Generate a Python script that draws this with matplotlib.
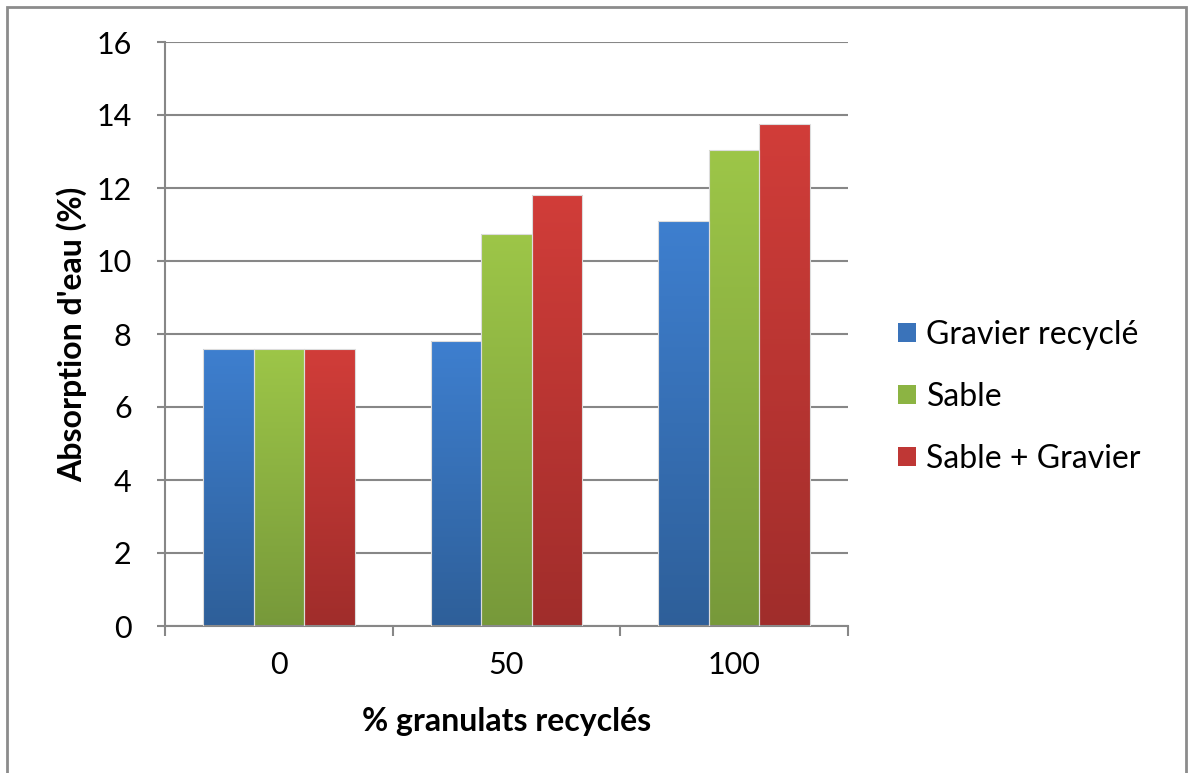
import matplotlib.pyplot as plt
import numpy as np
from matplotlib.colors import LinearSegmentedColormap
from matplotlib.patches import Rectangle

# data
categories = ["0", "50", "100"]
series_names = ["Gravier recyclé", "Sable", "Sable + Gravier"]
gravier_recycle = [7.6, 7.8, 11.1]
sable = [7.6, 10.75, 13.05]
sable_gravier = [7.6, 11.8, 13.75]
y_ticks = [0, 2, 4, 6, 8, 10, 12, 14, 16]

# gradient colours (top -> bottom)
top_colors = ["#3e7fcf", "#9dc648", "#d13d39"]
bottom_colors = ["#2e5f99", "#77993a", "#a02d2b"]
legend_colors = ["#3a73ba", "#8cb443", "#bf3735"]

plt.rcParams['font.family'] = ['Lato', 'DejaVu Sans']

W, H = 1188, 773
fig = plt.figure(figsize=(W / 100, H / 100), dpi=100)
ax = fig.add_axes([165 / W, 1 - 626 / H, (848 - 165) / W, (626 - 42) / H])

grid_color = "#878787"
x = np.arange(len(categories))
bar_w = 1 / 4.5
all_series = [gravier_recycle, sable, sable_gravier]

for i, values in enumerate(all_series):
    bars = ax.bar(x + (i - 1) * bar_w, values, bar_w, facecolor="none",
                  edgecolor="#dcdcdc", linewidth=0.8, zorder=3)
    cmap = LinearSegmentedColormap.from_list("g%d" % i,
                                             [bottom_colors[i], top_colors[i]])
    grad = np.linspace(0, 1, 256).reshape(-1, 1)
    for b in bars:
        x0, y0 = b.get_x(), b.get_y()
        img = ax.imshow(grad, cmap=cmap, origin="lower", aspect="auto",
                        extent=[x0, x0 + b.get_width(), y0, y0 + b.get_height()],
                        zorder=2)
        img.set_clip_path(b)

ax.set_xlim(-0.5, 2.5)
ax.set_ylim(0, 16)
ax.set_yticks(y_ticks)
ax.set_yticklabels([str(t) for t in y_ticks])
ax.set_xticks(x)
ax.set_xticklabels(categories)
ax.set_xticks([-0.5, 0.5, 1.5, 2.5], minor=True)

ax.grid(axis="y", color=grid_color, linewidth=1.5, zorder=0)
ax.set_axisbelow(True)
for s in ["top", "right"]:
    ax.spines[s].set_visible(False)
for s in ["left", "bottom"]:
    ax.spines[s].set_color(grid_color)
    ax.spines[s].set_linewidth(1.5)

ax.tick_params(axis="y", length=6, width=1.5, color=grid_color, pad=18,
               labelsize=22, labelcolor="black")
ax.tick_params(axis="x", which="major", length=0, pad=18, labelsize=22)
ax.tick_params(axis="x", which="minor", length=7, width=1.5, color=grid_color)

ax.set_xlabel("% granulats recyclés", fontsize=23, fontweight="bold")
ax.xaxis.label.set_va("center")
ax.xaxis.set_label_coords(0.5, -(721 - 626) / (626 - 42))
ax.set_ylabel("Absorption d'eau (%)", fontsize=23, fontweight="bold")
ax.yaxis.label.set_va("center")
ax.yaxis.set_label_coords(-(165 - 72) / (848 - 165), 0.5)

handles = [Rectangle((0, 0), 1, 1, facecolor=c, edgecolor="none")
           for c in legend_colors]
fig.legend(handles, series_names, loc="center left",
           bbox_to_anchor=(869 / W, 1 - 397 / H), frameon=False,
           fontsize=23, handlelength=0.56, handleheight=0.56,
           handletextpad=0.34, labelspacing=1.0)

# outer chart border (left, top, right)
fig.patches.append(Rectangle((7 / W, -0.1), (1186 - 7) / W, 1.1 - 7 / H,
                             transform=fig.transFigure, fill=False,
                             edgecolor="#8c8c8c", linewidth=2))

fig.savefig("out.png", dpi=100)
